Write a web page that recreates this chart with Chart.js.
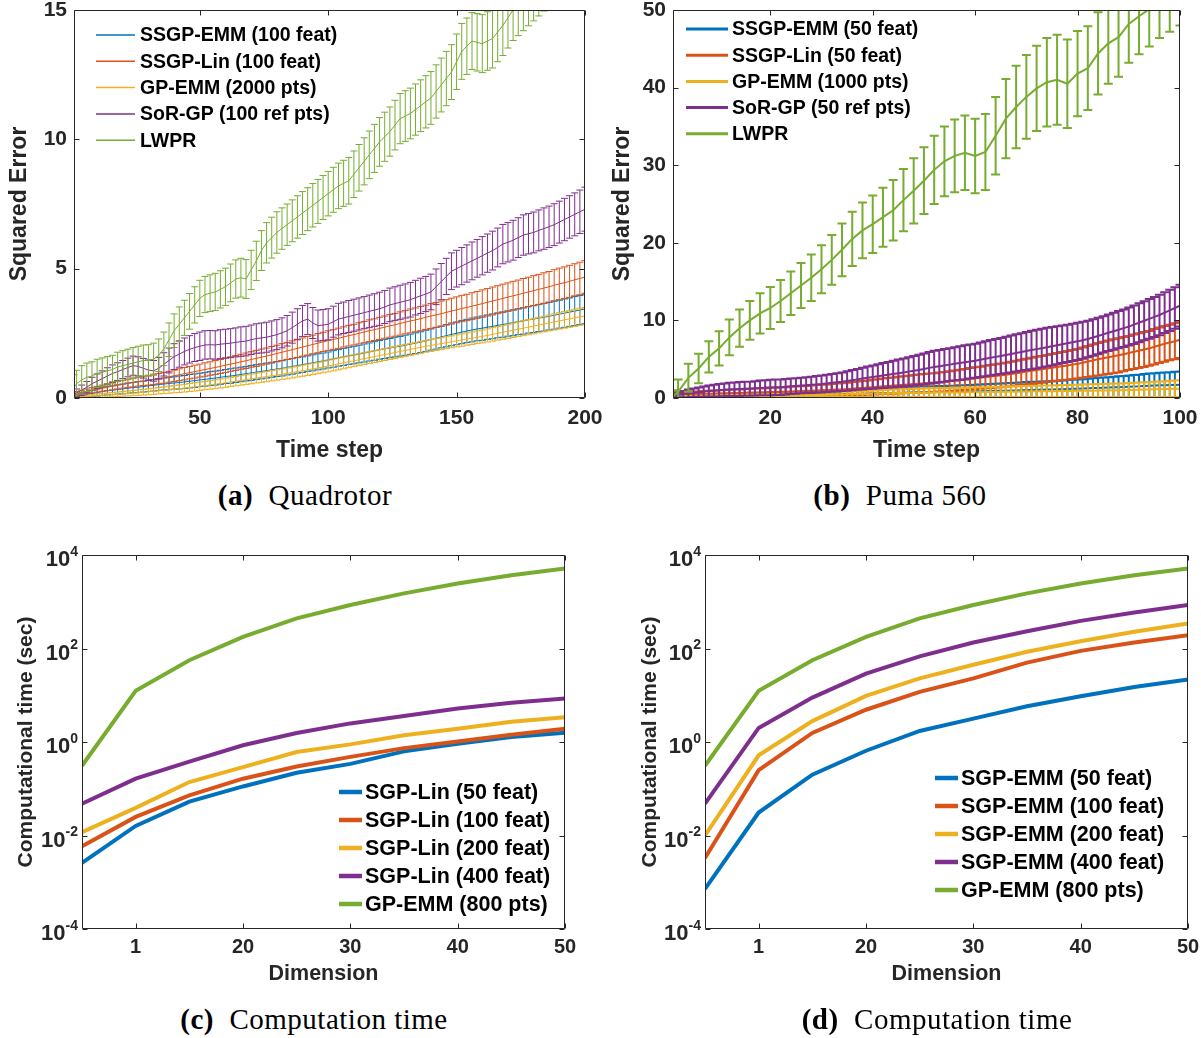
<!DOCTYPE html>
<html>
<head>
<meta charset="utf-8">
<script src="https://cdn.jsdelivr.net/npm/chart.js@4.4.1/dist/chart.umd.min.js"></script>
<style>
  body { margin: 0; background: #fff; width: 1201px; height: 1038px; position: relative; overflow: hidden; }
  canvas { position: absolute; }
  .cap { position: absolute; width: 440px; text-align: center; font-family: "Liberation Serif", "DejaVu Serif", serif;
         font-size: 29px; line-height: 32px; letter-spacing: 0.5px; color: #000; white-space: nowrap; }
</style>
</head>
<body>
<canvas id="quad" width="610" height="470" style="left:0;top:0"></canvas>
<canvas id="puma" width="601" height="470" style="left:600px;top:0"></canvas>
<canvas id="timeLin" width="610" height="470" style="left:0;top:530px"></canvas>
<canvas id="timeEmm" width="601" height="470" style="left:600px;top:530px"></canvas>
<div class="cap" style="left:85px;top:479px"><b>(a)</b>&nbsp; Quadrotor</div>
<div class="cap" style="left:680px;top:479px"><b>(b)</b>&nbsp; Puma 560</div>
<div class="cap" style="left:94px;top:1003px"><b>(c)</b>&nbsp; Computation time</div>
<div class="cap" style="left:717px;top:1003px"><b>(d)</b>&nbsp; Computation time</div>
<script>
// ---- (a) Quadrotor: squared error per time step (mean, error half-width)
const stepsQuad = [1, 2, 4, 6, 8, 10, 12, 14, 16, 18,
  20, 22, 24, 26, 28, 30, 32, 34, 36, 38,
  40, 42, 44, 46, 48, 50, 52, 54, 56, 58,
  60, 62, 64, 66, 68, 70, 72, 74, 76, 78,
  80, 82, 84, 86, 88, 90, 92, 94, 96, 98,
  100, 102, 104, 106, 108, 110, 112, 114, 116, 118,
  120, 122, 124, 126, 128, 130, 132, 134, 136, 138,
  140, 142, 144, 146, 148, 150, 152, 154, 156, 158,
  160, 162, 164, 166, 168, 170, 172, 174, 176, 178,
  180, 182, 184, 186, 188, 190, 192, 194, 196, 198,
  200];
const quadEmmMean = [0.05, 0.07, 0.1, 0.14, 0.17, 0.21, 0.25, 0.28, 0.3, 0.33,
  0.35, 0.38, 0.4, 0.42, 0.44, 0.47, 0.49, 0.52, 0.54, 0.56,
  0.58, 0.6, 0.62, 0.65, 0.67, 0.7, 0.72, 0.75, 0.77, 0.8,
  0.83, 0.85, 0.88, 0.91, 0.94, 0.97, 1.0, 1.03, 1.06, 1.09,
  1.12, 1.15, 1.19, 1.22, 1.26, 1.29, 1.33, 1.36, 1.4, 1.43,
  1.47, 1.51, 1.55, 1.59, 1.63, 1.66, 1.7, 1.74, 1.78, 1.82,
  1.86, 1.9, 1.93, 1.97, 2.0, 2.04, 2.08, 2.12, 2.16, 2.21,
  2.26, 2.31, 2.36, 2.41, 2.46, 2.5, 2.55, 2.59, 2.63, 2.67,
  2.7, 2.74, 2.77, 2.81, 2.84, 2.88, 2.91, 2.95, 2.98, 3.02,
  3.05, 3.09, 3.12, 3.16, 3.2, 3.24, 3.28, 3.32, 3.36, 3.4,
  3.44];
const quadEmmErr = [0.03, 0.05, 0.08, 0.1, 0.12, 0.14, 0.15, 0.16, 0.17, 0.18,
  0.19, 0.2, 0.2, 0.21, 0.21, 0.22, 0.22, 0.23, 0.23, 0.24,
  0.24, 0.25, 0.25, 0.26, 0.26, 0.26, 0.26, 0.27, 0.27, 0.27,
  0.27, 0.28, 0.28, 0.28, 0.28, 0.29, 0.29, 0.29, 0.29, 0.29,
  0.29, 0.3, 0.3, 0.3, 0.3, 0.3, 0.3, 0.31, 0.31, 0.31,
  0.31, 0.32, 0.32, 0.33, 0.33, 0.34, 0.34, 0.35, 0.35, 0.36,
  0.36, 0.37, 0.37, 0.38, 0.38, 0.39, 0.39, 0.4, 0.4, 0.41,
  0.41, 0.42, 0.42, 0.43, 0.44, 0.44, 0.45, 0.45, 0.46, 0.46,
  0.47, 0.47, 0.48, 0.48, 0.49, 0.49, 0.5, 0.5, 0.51, 0.51,
  0.52, 0.52, 0.53, 0.53, 0.54, 0.54, 0.55, 0.55, 0.56, 0.56,
  0.57];
const quadLinMean = [0.15, 0.18, 0.22, 0.26, 0.3, 0.34, 0.38, 0.42, 0.46, 0.5,
  0.53, 0.57, 0.6, 0.63, 0.66, 0.69, 0.72, 0.75, 0.78, 0.82,
  0.86, 0.9, 0.94, 0.98, 1.02, 1.06, 1.1, 1.14, 1.18, 1.22,
  1.27, 1.31, 1.35, 1.4, 1.44, 1.49, 1.53, 1.58, 1.62, 1.67,
  1.72, 1.77, 1.82, 1.87, 1.92, 1.97, 2.02, 2.07, 2.12, 2.17,
  2.22, 2.26, 2.31, 2.36, 2.41, 2.45, 2.5, 2.55, 2.6, 2.64,
  2.69, 2.74, 2.79, 2.83, 2.88, 2.93, 2.98, 3.02, 3.07, 3.12,
  3.17, 3.21, 3.26, 3.31, 3.36, 3.41, 3.46, 3.5, 3.55, 3.6,
  3.65, 3.7, 3.75, 3.8, 3.85, 3.9, 3.95, 4.0, 4.05, 4.1,
  4.15, 4.2, 4.25, 4.3, 4.36, 4.41, 4.46, 4.51, 4.57, 4.62,
  4.68];
const quadLinErr = [0.05, 0.06, 0.08, 0.09, 0.1, 0.11, 0.12, 0.13, 0.14, 0.15,
  0.15, 0.16, 0.17, 0.17, 0.18, 0.19, 0.2, 0.2, 0.21, 0.21,
  0.22, 0.23, 0.24, 0.24, 0.25, 0.25, 0.26, 0.26, 0.27, 0.27,
  0.28, 0.28, 0.29, 0.29, 0.3, 0.3, 0.31, 0.31, 0.31, 0.32,
  0.32, 0.33, 0.33, 0.34, 0.35, 0.35, 0.36, 0.36, 0.37, 0.37,
  0.38, 0.38, 0.39, 0.39, 0.4, 0.4, 0.41, 0.41, 0.42, 0.42,
  0.43, 0.43, 0.44, 0.44, 0.45, 0.45, 0.46, 0.46, 0.47, 0.47,
  0.48, 0.48, 0.49, 0.49, 0.5, 0.5, 0.51, 0.51, 0.52, 0.52,
  0.53, 0.53, 0.54, 0.54, 0.55, 0.55, 0.56, 0.56, 0.57, 0.57,
  0.58, 0.58, 0.59, 0.59, 0.6, 0.61, 0.61, 0.62, 0.62, 0.63,
  0.63];
const quadGpMean = [0.02, 0.03, 0.04, 0.055, 0.07, 0.085, 0.1, 0.115, 0.13, 0.145,
  0.16, 0.175, 0.19, 0.205, 0.22, 0.24, 0.26, 0.28, 0.3, 0.32,
  0.34, 0.36, 0.38, 0.405, 0.43, 0.455, 0.48, 0.505, 0.53, 0.56,
  0.59, 0.62, 0.65, 0.68, 0.71, 0.74, 0.77, 0.8, 0.83, 0.86,
  0.89, 0.92, 0.95, 0.985, 1.02, 1.055, 1.09, 1.125, 1.16, 1.2,
  1.24, 1.28, 1.32, 1.36, 1.4, 1.44, 1.48, 1.52, 1.56, 1.6,
  1.64, 1.68, 1.72, 1.76, 1.8, 1.84, 1.88, 1.92, 1.96, 2.0,
  2.03, 2.07, 2.1, 2.14, 2.17, 2.21, 2.24, 2.28, 2.31, 2.35,
  2.38, 2.42, 2.46, 2.5, 2.54, 2.58, 2.62, 2.66, 2.7, 2.74,
  2.78, 2.82, 2.86, 2.9, 2.94, 2.98, 3.02, 3.06, 3.1, 3.14,
  3.17];
const quadGpErr = [0.02, 0.03, 0.04, 0.05, 0.06, 0.065, 0.07, 0.075, 0.08, 0.085,
  0.09, 0.095, 0.1, 0.105, 0.11, 0.115, 0.12, 0.125, 0.13, 0.135,
  0.14, 0.145, 0.15, 0.155, 0.16, 0.16, 0.16, 0.165, 0.17, 0.175,
  0.18, 0.18, 0.18, 0.185, 0.19, 0.19, 0.19, 0.195, 0.2, 0.2,
  0.2, 0.2, 0.21, 0.21, 0.21, 0.215, 0.22, 0.22, 0.22, 0.225,
  0.23, 0.23, 0.23, 0.23, 0.23, 0.23, 0.23, 0.23, 0.23, 0.23,
  0.23, 0.23, 0.23, 0.23, 0.23, 0.23, 0.23, 0.23, 0.23, 0.23,
  0.23, 0.23, 0.23, 0.23, 0.23, 0.235, 0.24, 0.24, 0.24, 0.245,
  0.25, 0.255, 0.26, 0.265, 0.27, 0.275, 0.28, 0.285, 0.29, 0.295,
  0.3, 0.3, 0.3, 0.305, 0.31, 0.315, 0.32, 0.325, 0.33, 0.33,
  0.33];
const quadSorMean = [0.15, 0.2, 0.3, 0.42, 0.55, 0.65, 0.75, 0.85, 0.95, 1.02,
  1.1, 1.18, 1.25, 1.22, 1.15, 1.08, 1.05, 1.15, 1.3, 1.45,
  1.6, 1.7, 1.8, 1.88, 1.95, 2.0, 2.05, 2.06, 2.05, 2.08,
  2.1, 2.12, 2.15, 2.18, 2.2, 2.25, 2.3, 2.32, 2.35, 2.4,
  2.45, 2.52, 2.6, 2.72, 2.85, 2.98, 3.05, 2.9, 2.8, 2.82,
  2.85, 2.95, 3.05, 3.1, 3.15, 3.2, 3.25, 3.3, 3.35, 3.4,
  3.45, 3.52, 3.6, 3.65, 3.7, 3.75, 3.8, 3.88, 3.95, 4.02,
  4.1, 4.3, 4.5, 4.7, 4.9, 5.0, 5.1, 5.2, 5.3, 5.4,
  5.5, 5.6, 5.7, 5.82, 5.95, 6.02, 6.1, 6.2, 6.3, 6.35,
  6.4, 6.48, 6.55, 6.62, 6.7, 6.8, 6.9, 7.0, 7.1, 7.2,
  7.3];
const quadSorErr = [0.1, 0.15, 0.2, 0.22, 0.25, 0.28, 0.3, 0.32, 0.33, 0.34,
  0.35, 0.36, 0.37, 0.37, 0.38, 0.39, 0.4, 0.42, 0.45, 0.48,
  0.5, 0.51, 0.52, 0.53, 0.54, 0.55, 0.55, 0.55, 0.55, 0.56,
  0.56, 0.56, 0.56, 0.57, 0.57, 0.57, 0.57, 0.58, 0.58, 0.58,
  0.58, 0.58, 0.59, 0.6, 0.6, 0.6, 0.6, 0.6, 0.6, 0.6,
  0.6, 0.6, 0.61, 0.61, 0.62, 0.62, 0.62, 0.62, 0.63, 0.63,
  0.64, 0.64, 0.65, 0.65, 0.66, 0.66, 0.67, 0.67, 0.68, 0.68,
  0.69, 0.69, 0.7, 0.7, 0.71, 0.71, 0.72, 0.72, 0.73, 0.73,
  0.74, 0.74, 0.75, 0.75, 0.76, 0.76, 0.77, 0.77, 0.78, 0.78,
  0.79, 0.79, 0.8, 0.8, 0.81, 0.81, 0.82, 0.82, 0.83, 0.84,
  0.85];
const quadLwprMean = [0.4, 0.55, 0.7, 0.8, 0.85, 0.95, 1.0, 1.05, 1.1, 1.2,
  1.25, 1.3, 1.35, 1.4, 1.45, 1.45, 1.5, 1.65, 1.9, 2.25,
  2.6, 2.85, 3.1, 3.35, 3.6, 3.85, 4.0, 4.05, 4.1, 4.2,
  4.3, 4.45, 4.6, 4.65, 4.6, 4.95, 5.3, 5.7, 6.0, 6.2,
  6.4, 6.55, 6.7, 6.85, 7.0, 7.15, 7.3, 7.45, 7.6, 7.75,
  7.9, 8.05, 8.2, 8.3, 8.4, 8.65, 8.9, 9.15, 9.4, 9.65,
  9.9, 10.1, 10.3, 10.55, 10.8, 10.9, 11.0, 11.15, 11.3, 11.45,
  11.6, 11.85, 12.1, 12.35, 12.6, 13.0, 13.4, 13.6, 13.8, 13.75,
  13.7, 13.8, 13.9, 14.15, 14.4, 14.7, 15.0, 15.2, 15.4, 15.6,
  15.8, 16.0, 16.2, 16.4, 16.6, 16.8, 17.0, 17.15, 17.3, 17.45,
  17.6];
const quadLwprErr = [0.5, 0.52, 0.55, 0.55, 0.55, 0.55, 0.55, 0.55, 0.55, 0.57,
  0.58, 0.59, 0.6, 0.6, 0.6, 0.61, 0.62, 0.63, 0.65, 0.65,
  0.65, 0.67, 0.68, 0.69, 0.7, 0.7, 0.7, 0.71, 0.72, 0.72,
  0.72, 0.73, 0.74, 0.75, 0.75, 0.76, 0.76, 0.77, 0.78, 0.79,
  0.8, 0.8, 0.8, 0.81, 0.82, 0.83, 0.83, 0.84, 0.85, 0.85,
  0.86, 0.87, 0.88, 0.89, 0.9, 0.9, 0.9, 0.91, 0.92, 0.93,
  0.94, 0.95, 0.95, 0.96, 0.97, 0.98, 0.98, 0.99, 1.0, 1.01,
  1.02, 1.03, 1.04, 1.05, 1.06, 1.07, 1.08, 1.09, 1.1, 1.11,
  1.12, 1.13, 1.14, 1.15, 1.16, 1.17, 1.18, 1.19, 1.2, 1.21,
  1.22, 1.23, 1.24, 1.25, 1.26, 1.27, 1.28, 1.29, 1.3, 1.31,
  1.32];
const quadLabels = ['SSGP-EMM (100 feat)', 'SSGP-Lin (100 feat)', 'GP-EMM (2000 pts)', 'SoR-GP (100 ref pts)', 'LWPR'];
const quadXTicks = [50, 100, 150, 200];
const quadYTicks = [0, 5, 10, 15];

// ---- (b) Puma 560
const stepsPuma = [1, 2, 3, 4, 5, 6, 7, 8, 9, 10,
  11, 12, 13, 14, 15, 16, 17, 18, 19, 20,
  21, 22, 23, 24, 25, 26, 27, 28, 29, 30,
  31, 32, 33, 34, 35, 36, 37, 38, 39, 40,
  41, 42, 43, 44, 45, 46, 47, 48, 49, 50,
  51, 52, 53, 54, 55, 56, 57, 58, 59, 60,
  61, 62, 63, 64, 65, 66, 67, 68, 69, 70,
  71, 72, 73, 74, 75, 76, 77, 78, 79, 80,
  81, 82, 83, 84, 85, 86, 87, 88, 89, 90,
  91, 92, 93, 94, 95, 96, 97, 98, 99, 100];
const stepsPumaLwpr = [1, 2, 4, 6, 8, 10, 12, 14, 16, 18,
  20, 22, 24, 26, 28, 30, 32, 34, 36, 38,
  40, 42, 44, 46, 48, 50, 52, 54, 56, 58,
  60, 62, 64, 66, 68, 70, 72, 74, 76, 78,
  80, 82, 84, 86, 88, 90, 92, 94, 96, 98,
  100];
const pumaEmmMean = [0.2, 0.2, 0.2, 0.2, 0.21, 0.22, 0.24, 0.25, 0.26, 0.27,
  0.28, 0.28, 0.29, 0.3, 0.3, 0.31, 0.32, 0.33, 0.34, 0.34,
  0.35, 0.36, 0.37, 0.38, 0.39, 0.4, 0.41, 0.42, 0.44, 0.45,
  0.47, 0.48, 0.49, 0.5, 0.52, 0.53, 0.55, 0.56, 0.58, 0.6,
  0.62, 0.63, 0.65, 0.66, 0.68, 0.69, 0.71, 0.72, 0.73, 0.74,
  0.75, 0.76, 0.77, 0.78, 0.79, 0.8, 0.82, 0.83, 0.85, 0.86,
  0.88, 0.89, 0.9, 0.92, 0.94, 0.95, 0.97, 0.98, 1.0, 1.02,
  1.04, 1.05, 1.07, 1.08, 1.1, 1.12, 1.14, 1.16, 1.18, 1.2,
  1.22, 1.25, 1.28, 1.3, 1.32, 1.35, 1.38, 1.4, 1.42, 1.45,
  1.48, 1.5, 1.54, 1.58, 1.6, 1.63, 1.65, 1.67, 1.69, 1.7];
const pumaEmmErr = [0.1, 0.15, 0.18, 0.2, 0.2, 0.2, 0.21, 0.22, 0.23, 0.24,
  0.25, 0.26, 0.27, 0.28, 0.29, 0.3, 0.3, 0.31, 0.32, 0.33,
  0.34, 0.35, 0.36, 0.37, 0.38, 0.39, 0.4, 0.41, 0.43, 0.44,
  0.46, 0.47, 0.48, 0.49, 0.51, 0.52, 0.54, 0.55, 0.57, 0.58,
  0.6, 0.62, 0.64, 0.65, 0.67, 0.69, 0.71, 0.73, 0.74, 0.75,
  0.76, 0.76, 0.77, 0.77, 0.78, 0.79, 0.81, 0.82, 0.84, 0.85,
  0.87, 0.88, 0.9, 0.91, 0.93, 0.96, 0.97, 0.98, 1.0, 1.03,
  1.04, 1.04, 1.06, 1.07, 1.09, 1.11, 1.13, 1.15, 1.17, 1.19,
  1.21, 1.24, 1.27, 1.3, 1.32, 1.34, 1.37, 1.39, 1.42, 1.44,
  1.47, 1.5, 1.54, 1.58, 1.6, 1.62, 1.64, 1.66, 1.68, 1.7];
const pumaLinMean = [0.6, 0.55, 0.52, 0.5, 0.5, 0.5, 0.52, 0.55, 0.58, 0.6,
  0.61, 0.62, 0.64, 0.65, 0.68, 0.7, 0.72, 0.73, 0.75, 0.76,
  0.78, 0.8, 0.82, 0.85, 0.88, 0.9, 0.92, 0.95, 0.98, 1.0,
  1.02, 1.05, 1.08, 1.1, 1.15, 1.2, 1.25, 1.3, 1.35, 1.4,
  1.45, 1.5, 1.55, 1.6, 1.65, 1.7, 1.75, 1.8, 1.85, 1.9,
  1.95, 2.0, 2.05, 2.1, 2.18, 2.25, 2.32, 2.4, 2.48, 2.55,
  2.62, 2.7, 2.78, 2.85, 2.92, 3.0, 3.1, 3.2, 3.3, 3.4,
  3.5, 3.6, 3.7, 3.8, 3.9, 4.0, 4.1, 4.2, 4.3, 4.4,
  4.55, 4.7, 4.85, 5.0, 5.12, 5.25, 5.38, 5.5, 5.65, 5.8,
  5.95, 6.1, 6.25, 6.4, 6.6, 6.8, 6.98, 7.15, 7.32, 7.5];
const pumaLinErr = [0.1, 0.2, 0.25, 0.3, 0.32, 0.35, 0.38, 0.4, 0.4, 0.4,
  0.42, 0.45, 0.45, 0.45, 0.48, 0.5, 0.5, 0.5, 0.52, 0.55,
  0.55, 0.55, 0.58, 0.6, 0.6, 0.6, 0.62, 0.65, 0.68, 0.7,
  0.72, 0.75, 0.78, 0.8, 0.82, 0.85, 0.88, 0.9, 0.92, 0.95,
  0.98, 1.0, 1.02, 1.05, 1.08, 1.1, 1.12, 1.15, 1.18, 1.2,
  1.2, 1.2, 1.22, 1.25, 1.28, 1.3, 1.32, 1.35, 1.38, 1.4,
  1.42, 1.45, 1.48, 1.5, 1.52, 1.55, 1.58, 1.6, 1.62, 1.65,
  1.68, 1.7, 1.72, 1.75, 1.78, 1.8, 1.82, 1.85, 1.88, 1.9,
  1.95, 2.0, 2.05, 2.1, 2.12, 2.15, 2.18, 2.2, 2.2, 2.2,
  2.22, 2.25, 2.25, 2.25, 2.28, 2.3, 2.3, 2.3, 2.32, 2.35];
const pumaGpMean = [0.1, 0.12, 0.13, 0.15, 0.16, 0.17, 0.18, 0.19, 0.2, 0.21,
  0.22, 0.23, 0.24, 0.25, 0.26, 0.27, 0.28, 0.29, 0.3, 0.3,
  0.31, 0.32, 0.33, 0.34, 0.34, 0.35, 0.36, 0.37, 0.38, 0.4,
  0.41, 0.43, 0.44, 0.46, 0.48, 0.5, 0.51, 0.53, 0.54, 0.56,
  0.57, 0.59, 0.6, 0.62, 0.63, 0.64, 0.65, 0.66, 0.67, 0.68,
  0.69, 0.7, 0.7, 0.71, 0.71, 0.72, 0.72, 0.73, 0.73, 0.74,
  0.75, 0.76, 0.77, 0.78, 0.79, 0.8, 0.81, 0.82, 0.83, 0.84,
  0.85, 0.86, 0.86, 0.87, 0.87, 0.88, 0.89, 0.9, 0.91, 0.92,
  0.93, 0.94, 0.95, 0.96, 0.97, 0.98, 0.99, 1.0, 1.01, 1.03,
  1.04, 1.06, 1.08, 1.1, 1.12, 1.14, 1.15, 1.17, 1.18, 1.2];
const pumaGpErr = [0.05, 0.08, 0.09, 0.1, 0.1, 0.11, 0.11, 0.12, 0.12, 0.13,
  0.13, 0.14, 0.14, 0.15, 0.16, 0.17, 0.17, 0.18, 0.18, 0.19,
  0.19, 0.2, 0.21, 0.22, 0.23, 0.24, 0.25, 0.26, 0.27, 0.28,
  0.29, 0.3, 0.31, 0.33, 0.34, 0.36, 0.37, 0.39, 0.4, 0.42,
  0.43, 0.45, 0.46, 0.47, 0.48, 0.5, 0.51, 0.52, 0.53, 0.55,
  0.56, 0.57, 0.57, 0.58, 0.59, 0.6, 0.6, 0.61, 0.62, 0.63,
  0.63, 0.64, 0.65, 0.66, 0.67, 0.68, 0.69, 0.7, 0.71, 0.72,
  0.72, 0.73, 0.74, 0.75, 0.75, 0.76, 0.77, 0.78, 0.79, 0.8,
  0.81, 0.82, 0.83, 0.84, 0.85, 0.86, 0.87, 0.88, 0.89, 0.9,
  0.91, 0.93, 0.95, 0.97, 0.98, 1.0, 1.02, 1.04, 1.06, 1.08];
const pumaSorMean = [0.3, 0.4, 0.5, 0.6, 0.68, 0.75, 0.82, 0.9, 0.95, 1.0,
  1.05, 1.1, 1.12, 1.15, 1.18, 1.2, 1.25, 1.3, 1.32, 1.35,
  1.38, 1.4, 1.45, 1.5, 1.55, 1.6, 1.65, 1.7, 1.75, 1.8,
  1.88, 1.95, 2.02, 2.1, 2.2, 2.3, 2.4, 2.5, 2.6, 2.7,
  2.8, 2.9, 3.0, 3.1, 3.2, 3.3, 3.4, 3.5, 3.62, 3.75,
  3.88, 4.0, 4.1, 4.2, 4.3, 4.4, 4.5, 4.6, 4.7, 4.8,
  4.92, 5.05, 5.18, 5.3, 5.42, 5.55, 5.68, 5.8, 5.92, 6.05,
  6.18, 6.3, 6.42, 6.55, 6.68, 6.8, 6.92, 7.05, 7.18, 7.3,
  7.45, 7.6, 7.8, 8.0, 8.2, 8.4, 8.6, 8.8, 9.0, 9.2,
  9.45, 9.7, 9.95, 10.2, 10.45, 10.7, 11.0, 11.3, 11.6, 11.9];
const pumaSorErr = [0.1, 0.3, 0.4, 0.5, 0.55, 0.6, 0.65, 0.7, 0.75, 0.8,
  0.82, 0.85, 0.88, 0.9, 0.9, 0.9, 0.92, 0.95, 0.98, 1.0,
  1.0, 1.0, 1.0, 1.0, 1.0, 1.0, 1.02, 1.05, 1.08, 1.1,
  1.12, 1.15, 1.18, 1.2, 1.25, 1.3, 1.35, 1.4, 1.45, 1.5,
  1.55, 1.6, 1.65, 1.7, 1.75, 1.8, 1.85, 1.9, 1.95, 2.0,
  2.05, 2.1, 2.1, 2.1, 2.12, 2.15, 2.18, 2.2, 2.2, 2.2,
  2.22, 2.25, 2.28, 2.3, 2.32, 2.35, 2.38, 2.4, 2.42, 2.45,
  2.48, 2.5, 2.5, 2.5, 2.48, 2.45, 2.42, 2.4, 2.4, 2.4,
  2.38, 2.35, 2.35, 2.35, 2.35, 2.35, 2.38, 2.4, 2.42, 2.45,
  2.48, 2.5, 2.52, 2.55, 2.58, 2.6, 2.62, 2.65, 2.68, 2.7];
const pumaLwprMean = [0.2, 0.8, 2.6, 3.8, 5.3, 6.4, 7.8, 9.0, 10.0, 10.9,
  11.6, 12.5, 13.5, 14.5, 15.5, 16.6, 17.8, 19.1, 20.5, 21.6,
  22.4, 23.3, 24.2, 25.5, 26.7, 28.0, 29.4, 30.5, 31.2, 31.6,
  31.2, 31.7, 33.8, 36.0, 37.5, 38.8, 39.9, 40.7, 41.0, 40.5,
  41.8, 42.5, 44.4, 45.7, 46.5, 48.2, 49.2, 50.1, 51.0, 51.7,
  52.4];
const pumaLwprErr = [0.8, 1.6, 1.8, 1.9, 2.0, 2.2, 2.3, 2.4, 2.5, 2.6,
  2.7, 2.7, 2.8, 2.9, 3.0, 3.1, 3.2, 3.4, 3.5, 3.6,
  3.7, 3.8, 3.9, 4.0, 4.2, 4.3, 4.4, 4.5, 4.7, 4.8,
  4.8, 4.9, 5.0, 5.1, 5.3, 5.4, 5.5, 5.7, 5.8, 5.7,
  5.5, 5.4, 5.3, 5.2, 5.1, 5.0, 4.9, 4.8, 4.6, 4.5,
  4.4];
const pumaLabels = ['SSGP-EMM (50 feat)', 'SSGP-Lin (50 feat)', 'GP-EMM (1000 pts)', 'SoR-GP (50 ref pts)', 'LWPR'];
const pumaXTicks = [20, 40, 60, 80, 100];
const pumaYTicks = [0, 10, 20, 30, 40, 50];

// ---- (c), (d) computation time vs dimension
const dims = [5, 10, 15, 20, 25, 30, 35, 40, 45, 50];
const linFeat50 = [0.0026, 0.016, 0.053, 0.112, 0.22, 0.34, 0.63, 0.92, 1.28, 1.58];
const linFeat100 = [0.0059, 0.025, 0.072, 0.164, 0.30, 0.48, 0.74, 1.03, 1.43, 1.93];
const linFeat200 = [0.0118, 0.039, 0.139, 0.29, 0.61, 0.89, 1.39, 1.93, 2.7, 3.4];
const linFeat400 = [0.048, 0.164, 0.38, 0.85, 1.56, 2.5, 3.6, 5.2, 6.9, 8.5];
const emmFeat50 = [0.00072, 0.031, 0.2, 0.65, 1.72, 3.16, 5.8, 9.5, 15, 21.8];
const emmFeat100 = [0.0033, 0.25, 1.56, 4.9, 11.8, 23, 50, 89, 134, 193];
const emmFeat200 = [0.01, 0.52, 2.8, 9.7, 23, 45, 85, 143, 228, 345];
const emmFeat400 = [0.048, 2.0, 8.9, 29, 68, 134, 234, 390, 590, 850];
const gpEmm800 = [0.31, 12.4, 56, 178, 440, 850, 1510, 2460, 3700, 5150];
const linLabels = ['SGP-Lin (50 feat)', 'SGP-Lin (100 feat)', 'SGP-Lin (200 feat)', 'SGP-Lin (400 feat)', 'GP-EMM (800 pts)'];
const emmLabels = ['SGP-EMM (50 feat)', 'SGP-EMM (100 feat)', 'SGP-EMM (200 feat)', 'SGP-EMM (400 feat)', 'GP-EMM (800 pts)'];
const dimTicks = [10, 20, 30, 40, 50];
const dimTickLabels = ['1', '20', '30', '40', '50'];
const logTicks = [1e-4, 1e-2, 1, 1e2, 1e4];
const logTickExp = ['-4', '-2', '0', '2', '4'];

const colors = ['#0072BD', '#D95319', '#EDB120', '#7E2F8E', '#77AC30'];
const ink = '#262626';
const FONT = '"Liberation Sans", Arial, Helvetica, sans-serif';
Chart.defaults.font.family = FONT;
Chart.defaults.color = ink;

// vertical error bars with caps, drawn right after their own line
const errorBarPlugin = {
  id: 'errorBars',
  afterDatasetDraw(chart, args, opts) {
    const ds = chart.data.datasets[args.index];
    if (!ds.errors) return;
    const { ctx, chartArea: a, scales: { x, y } } = chart;
    ctx.save();
    ctx.beginPath();
    ctx.rect(a.left, a.top, a.right - a.left, a.bottom - a.top);
    ctx.clip();
    ctx.strokeStyle = ds.borderColor;
    ctx.lineWidth = opts.lineWidth;
    const h = opts.cap / 2;
    ctx.beginPath();
    ds.data.forEach((p, i) => {
      const px = x.getPixelForValue(p.x);
      const top = y.getPixelForValue(p.y + ds.errors[i]);
      const bot = y.getPixelForValue(p.y - ds.errors[i]);
      ctx.moveTo(px, top); ctx.lineTo(px, bot);
      ctx.moveTo(px - h, top); ctx.lineTo(px + h, top);
      ctx.moveTo(px - h, bot); ctx.lineTo(px + h, bot);
    });
    ctx.stroke();
    ctx.restore();
  }
};

// matlab style box with inward ticks
const axesBoxPlugin = {
  id: 'axesBox',
  afterDraw(chart) {
    const { ctx, chartArea: a, scales: { x, y } } = chart;
    const L = Math.round(a.left) + 0.5, R = Math.round(a.right) - 0.5;
    const T = Math.round(a.top) + 0.5, B = Math.round(a.bottom) - 0.5;
    ctx.save();
    ctx.strokeStyle = ink;
    ctx.lineWidth = 1;
    ctx.beginPath();
    ctx.rect(L, T, R - L, B - T);
    x.ticks.forEach(t => {
      const px = Math.round(x.getPixelForValue(t.value)) + 0.5;
      ctx.moveTo(px, B); ctx.lineTo(px, B - 5);
      ctx.moveTo(px, T); ctx.lineTo(px, T + 5);
    });
    y.ticks.forEach(t => {
      const py = Math.round(y.getPixelForValue(t.value)) + 0.5;
      ctx.moveTo(L, py); ctx.lineTo(L + 5, py);
      ctx.moveTo(R, py); ctx.lineTo(R - 5, py);
    });
    ctx.stroke();
    ctx.restore();
  }
};

// legend inside the axes
const inLegendPlugin = {
  id: 'inLegend',
  afterDraw(chart, args, o) {
    const { ctx, chartArea: a } = chart;
    ctx.save();
    ctx.font = `bold ${o.size}px ${FONT}`;
    ctx.textBaseline = 'middle';
    ctx.textAlign = 'left';
    chart.data.datasets.forEach((ds, i) => {
      const yy = a.top + o.top + i * o.step;
      const x0 = a.left + o.left;
      ctx.strokeStyle = ds.borderColor;
      ctx.lineWidth = o.lineWidth;
      ctx.beginPath();
      ctx.moveTo(x0, yy); ctx.lineTo(x0 + o.len, yy);
      ctx.stroke();
      ctx.fillStyle = '#000';
      ctx.fillText(ds.label, x0 + o.textAt, yy + 1);
    });
    ctx.restore();
  }
};

// 10^k labels on the log axis
const powerTicksPlugin = {
  id: 'powerTicks',
  afterDraw(chart, args, o) {
    const { ctx, chartArea: a, scales: { y } } = chart;
    ctx.save();
    ctx.fillStyle = ink;
    ctx.textBaseline = 'middle';
    ctx.textAlign = 'right';
    y.ticks.forEach((t, i) => {
      const py = y.getPixelForValue(t.value);
      ctx.font = `bold ${o.expSize}px ${FONT}`;
      const we = ctx.measureText(logTickExp[i]).width;
      ctx.fillText(logTickExp[i], a.left - o.gap, py - 3);
      ctx.font = `bold ${o.size}px ${FONT}`;
      ctx.fillText('10', a.left - o.gap - we, py + 5);
    });
    ctx.restore();
  }
};

function panel(id, p) {
  const cv = document.getElementById(id);
  const W = cv.width, H = cv.height;
  const datasets = p.series.map((s, i) => {
    const xs = s.xs || p.xs;
    return {
      label: p.labels[i],
      data: s.mean.map((v, k) => ({ x: xs[k], y: v })),
      errors: s.err,
      borderColor: colors[i],
      backgroundColor: colors[i],
      borderWidth: p.lineWidth,
      pointRadius: 0,
      tension: 0,
      fill: false,
      order: p.series.length - i
    };
  });
  const tickFont = { size: p.tickSize, weight: 'bold' };
  const titleFont = { size: p.titleSize, weight: 'bold' };
  return new Chart(cv, {
    type: 'line',
    data: { datasets },
    options: {
      responsive: false,
      animation: false,
      devicePixelRatio: 1,
      layout: { padding: { left: 0, top: p.area.top, right: W - p.area.right, bottom: 0 } },
      scales: {
        x: {
          type: 'linear', min: p.xMin, max: p.xMax,
          grid: { display: false, drawTicks: false },
          border: { display: false },
          afterBuildTicks: s => { s.ticks = p.xTicks.map(v => ({ value: v })); },
          afterFit: s => { s.height = H - p.area.bottom; s.paddingLeft = 0; s.paddingRight = 0; },
          ticks: { font: tickFont, color: ink, padding: p.xTickPad, maxRotation: 0, autoSkip: false,
                   callback: (v, i) => p.xTickLabels ? p.xTickLabels[i] : String(v) },
          title: { display: true, text: p.xTitle, font: { size: p.xTitleSize || p.titleSize, weight: 'bold' },
                   color: ink, padding: { top: 0, bottom: p.xTitlePad } }
        },
        y: {
          type: p.yType, min: p.yMin, max: p.yMax,
          grid: { display: false, drawTicks: false },
          border: { display: false },
          afterBuildTicks: s => { s.ticks = p.yTicks.map(v => ({ value: v })); },
          afterFit: s => { s.width = p.area.left; s.paddingTop = 0; s.paddingBottom = 0; },
          ticks: { display: !p.power, font: tickFont, color: ink, padding: 7, autoSkip: false,
                   callback: v => String(v) },
          title: { display: true, text: p.yTitle, font: titleFont, color: ink, padding: { top: p.yTitlePad, bottom: 0 } }
        }
      },
      plugins: {
        legend: { display: false },
        tooltip: { enabled: false },
        errorBars: p.errorBars || false,
        inLegend: p.legend,
        powerTicks: p.power || false
      }
    },
    plugins: [errorBarPlugin, axesBoxPlugin, inLegendPlugin, powerTicksPlugin]
  });
}

panel('quad', {
  xs: stepsQuad, labels: quadLabels,
  series: [
    { mean: quadEmmMean, err: quadEmmErr },
    { mean: quadLinMean, err: quadLinErr },
    { mean: quadGpMean, err: quadGpErr },
    { mean: quadSorMean, err: quadSorErr },
    { mean: quadLwprMean, err: quadLwprErr }
  ],
  area: { left: 74, top: 10, right: 585, bottom: 398 },
  xMin: 1, xMax: 200, xTicks: quadXTicks,
  yType: 'linear', yMin: 0, yMax: 15, yTicks: quadYTicks,
  lineWidth: 1, tickSize: 21, titleSize: 23,
  xTickPad: 8, xTitle: 'Time step', xTitlePad: 6,
  yTitle: 'Squared Error', yTitlePad: 6,
  errorBars: { cap: 7, lineWidth: 1 },
  legend: { left: 22, top: 25, step: 26.3, len: 39, textAt: 44, size: 19.5, lineWidth: 1.5 }
});

panel('puma', {
  xs: stepsPuma, labels: pumaLabels,
  series: [
    { mean: pumaEmmMean, err: pumaEmmErr },
    { mean: pumaLinMean, err: pumaLinErr },
    { mean: pumaGpMean, err: pumaGpErr },
    { mean: pumaSorMean, err: pumaSorErr },
    { mean: pumaLwprMean, err: pumaLwprErr, xs: stepsPumaLwpr }
  ],
  area: { left: 73, top: 10, right: 580, bottom: 398 },
  xMin: 1, xMax: 100, xTicks: pumaXTicks,
  yType: 'linear', yMin: 0, yMax: 50, yTicks: pumaYTicks,
  lineWidth: 2, tickSize: 21, titleSize: 23,
  xTickPad: 8, xTitle: 'Time step', xTitlePad: 6,
  yTitle: 'Squared Error', yTitlePad: 9,
  errorBars: { cap: 9, lineWidth: 2 },
  legend: { left: 13, top: 19, step: 26.2, len: 42, textAt: 46, size: 19.5, lineWidth: 3 }
});

panel('timeLin', {
  xs: dims, labels: linLabels,
  series: [
    { mean: linFeat50 }, { mean: linFeat100 }, { mean: linFeat200 }, { mean: linFeat400 }, { mean: gpEmm800 }
  ],
  area: { left: 82, top: 25, right: 565, bottom: 399 },
  xMin: 5, xMax: 50, xTicks: dimTicks, xTickLabels: dimTickLabels,
  yType: 'logarithmic', yMin: 1e-4, yMax: 1e4, yTicks: logTicks,
  lineWidth: 4, tickSize: 20, titleSize: 21, xTitleSize: 21.5,
  xTickPad: 6, xTitle: 'Dimension', xTitlePad: 13,
  yTitle: 'Computational time (sec)', yTitlePad: 14,
  power: { size: 22, expSize: 14, gap: 4 },
  legend: { left: 257, top: 237, step: 28, len: 23, textAt: 26, size: 21.5, lineWidth: 4.5 }
});

panel('timeEmm', {
  xs: dims, labels: emmLabels,
  series: [
    { mean: emmFeat50 }, { mean: emmFeat100 }, { mean: emmFeat200 }, { mean: emmFeat400 }, { mean: gpEmm800 }
  ],
  area: { left: 105, top: 25, right: 588, bottom: 399 },
  xMin: 5, xMax: 50, xTicks: dimTicks, xTickLabels: dimTickLabels,
  yType: 'logarithmic', yMin: 1e-4, yMax: 1e4, yTicks: logTicks,
  lineWidth: 4, tickSize: 20, titleSize: 21, xTitleSize: 21.5,
  xTickPad: 6, xTitle: 'Dimension', xTitlePad: 13,
  yTitle: 'Computational time (sec)', yTitlePad: 38,
  power: { size: 22, expSize: 14, gap: 4 },
  legend: { left: 230, top: 223, step: 28, len: 23, textAt: 26, size: 21.5, lineWidth: 4.5 }
});
</script>
</body>
</html>
